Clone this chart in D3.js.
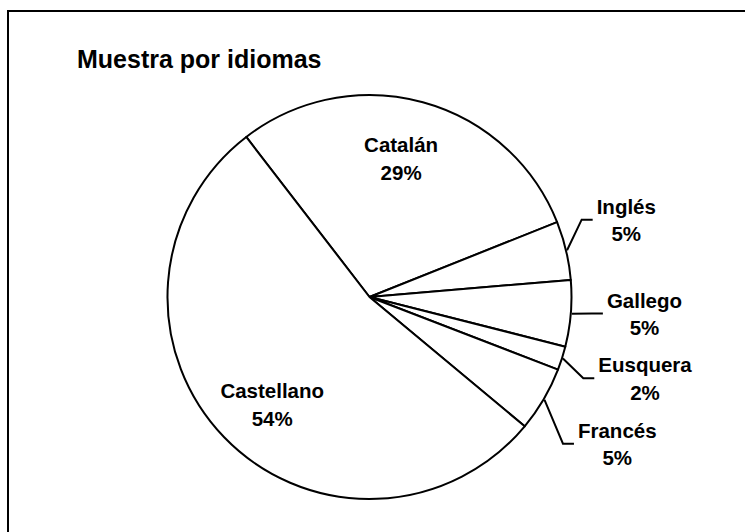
<!DOCTYPE html>
<html>
<head>
<meta charset="utf-8">
<script src="https://cdn.jsdelivr.net/npm/d3@7"></script>
<style>
  body { margin: 0; background: #fff; }
  svg { display: block; }
  text { font-family: "Liberation Sans", Arial, sans-serif; font-weight: bold; fill: #000; }
</style>
</head>
<body>
<svg width="745" height="532"></svg>
<script>
// data
var title = "Muestra por idiomas";
var categories = ["Catalán", "Inglés", "Gallego", "Eusquera", "Francés", "Castellano"];
var values = [29.4, 4.7, 5.3, 1.9, 5.2, 53.5];

// label placement (angle nudge in degrees, radius factor, outside or not)
var labelPlace = {
    "Catalán":    { da: -2.5, k: 0.705, out: false },
    "Inglés":     { da: -5.5, k: 1.188, out: true },
    "Gallego":    { da: -0.7, k: 1.178, out: true },
    "Eusquera":   { da: 1.9,  k: 1.202, out: true },
    "Francés":    { da: 4.7,  k: 1.262, out: true },
    "Castellano": { da: -3.9, k: 0.717, out: false }
};

var cx = 369.5, cy = 297, radius = 202;
var startDeg = -37.6;
var lineGap = 27.5;

var svg = d3.select("svg");

// frame (right and bottom edges run off the picture)
svg.append("rect")
    .attr("x", 8).attr("y", 11)
    .attr("width", 800).attr("height", 600)
    .attr("fill", "none").attr("stroke", "#000").attr("stroke-width", 2);

svg.append("text")
    .attr("x", 77).attr("y", 68)
    .style("font-size", "25px")
    .text(title);

var data = categories.map(function (c, i) { return { name: c, value: values[i] }; });

var rad = function (d) { return d * Math.PI / 180; };
var pie = d3.pie()
    .sort(null)
    .value(function (d) { return d.value; })
    .startAngle(rad(startDeg))
    .endAngle(rad(startDeg) + 2 * Math.PI);

var arc = d3.arc().innerRadius(0).outerRadius(radius);

var g = svg.append("g").attr("transform", "translate(" + cx + "," + cy + ")");
var arcs = pie(data);

g.selectAll(".slice")
    .data(arcs)
    .enter().append("path")
    .attr("class", "slice")
    .attr("d", arc)
    .attr("fill", "#fff")
    .attr("stroke", "#000")
    .attr("stroke-width", 2)
    .attr("stroke-linejoin", "round");

function polar(a, r) { return [r * Math.sin(a), -r * Math.cos(a)]; }

arcs.forEach(function (d) {
    var p = labelPlace[d.data.name];
    var mid = (d.startAngle + d.endAngle) / 2;
    var anchor = polar(mid + rad(p.da), radius * p.k);
    var pct = Math.round(d.data.value) + "%";

    var t = g.append("text")
        .style("font-size", "20.5px")
        .attr("text-anchor", "middle");
    var l1 = t.append("tspan").attr("y", anchor[1] - 6).text(d.data.name);
    var l2 = t.append("tspan").attr("y", anchor[1] - 6 + lineGap).text(pct);

    var x = anchor[0];
    if (p.out) {
        var w = Math.max(l1.node().getComputedTextLength(), l2.node().getComputedTextLength());
        x = anchor[0] + w / 2;
        var s = polar(mid, radius + 1);
        g.append("path")
            .attr("d", d3.line()([s, [anchor[0] - 15, anchor[1]], [anchor[0] - 4, anchor[1]]]))
            .attr("fill", "none")
            .attr("stroke", "#000")
            .attr("stroke-width", 2);
    }
    l1.attr("x", x);
    l2.attr("x", x);
});
</script>
</body>
</html>
